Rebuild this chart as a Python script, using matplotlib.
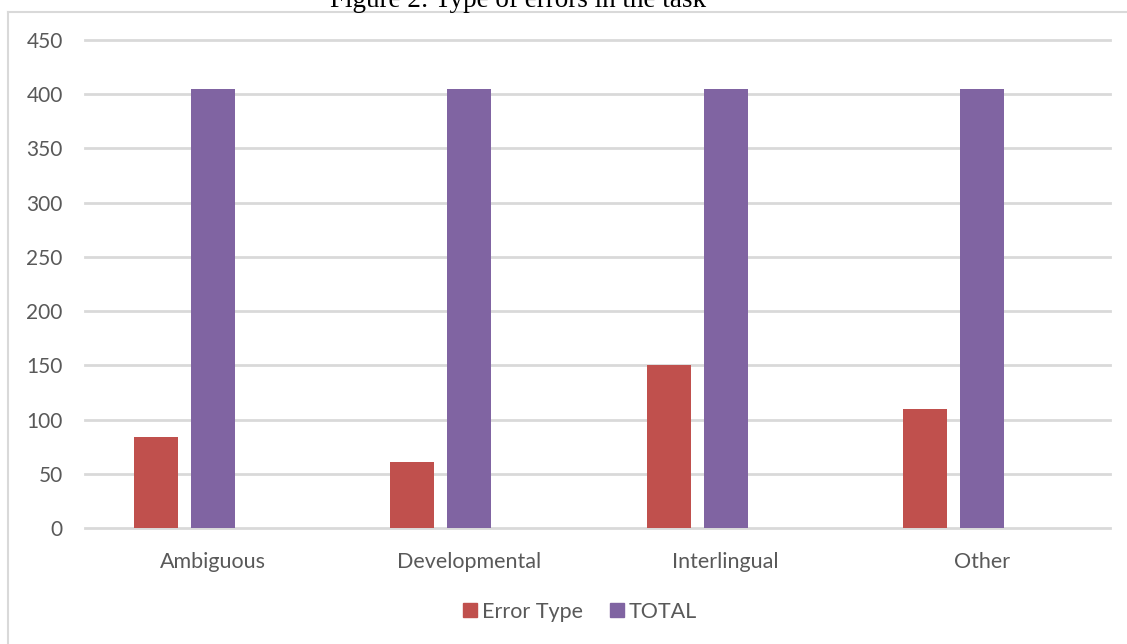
import matplotlib
matplotlib.use('Agg')
import matplotlib.pyplot as plt
import numpy as np
from matplotlib.lines import Line2D

# ── Dados ──────────────────────────────────────────────────────────────────────
categories = ['Ambiguous', 'Developmental', 'Interlingual', 'Other']
error_type = [84, 61, 150, 110]
total = [405, 405, 405, 405]
yticks = [0, 50, 100, 150, 200, 250, 300, 350, 400, 450]

RED = '#C0504D'
PURPLE = '#8064A2'
GRID = '#D9D9D9'
TXT = '#595959'

plt.rcParams['font.family'] = ['Lato', 'DejaVu Sans']

fig = plt.figure(figsize=(11.27, 6.44), dpi=100)
W, H = 1127, 644
ax = fig.add_axes([85 / W, 1 - 528 / H, (1110 - 85) / W, (528 - 40) / H])

x = np.arange(len(categories))
w = 44 / 256
off = 57 / 256
ax.bar(x - off, error_type, w, color=RED, label='Error Type', zorder=3)
ax.bar(x, total, w, color=PURPLE, label='TOTAL', zorder=3)

ax.set_xlim(-0.5, len(categories) - 0.5)
ax.set_ylim(0, 450)
ax.set_yticks(yticks)
ax.set_yticklabels([str(v) for v in yticks], fontsize=15, color=TXT)
ax.set_xticks(x)
ax.set_xticklabels(categories, fontsize=15.5, color=TXT)
ax.tick_params(length=0)
ax.tick_params(axis='y', pad=16)
ax.tick_params(axis='x', pad=17)
ax.yaxis.grid(True, color=GRID, lw=2, zorder=0)
for gl in ax.get_ygridlines():
    gl.set_clip_on(False)
for s in ax.spines.values():
    s.set_visible(False)

handles = [Line2D([], [], marker='s', ls='', color=RED, markersize=10),
           Line2D([], [], marker='s', ls='', color=PURPLE, markersize=10)]
fig.legend(handles, ['Error Type', 'TOTAL'], loc='center',
           bbox_to_anchor=(578 / W, 1 - 612 / H), ncol=2, frameon=False,
           fontsize=15.5, labelcolor=TXT, handletextpad=0.05, columnspacing=1.1,
           handlelength=1.0)

# moldura do gráfico (só topo e esquerda visíveis)
fig.add_artist(Line2D([8 / W, 1.01], [1 - 12 / H, 1 - 12 / H], color=GRID, lw=1.5,
                      transform=fig.transFigure))
fig.add_artist(Line2D([8 / W, 8 / W], [-0.01, 1 - 12 / H], color=GRID, lw=1.5,
                      transform=fig.transFigure))

fig.text(518 / W, 1 - 7 / H, 'Figure 2: Type of errors in the task',
         ha='center', va='baseline', fontsize=19.5, family='Liberation Serif')

fig.savefig('out.png', dpi=100)
